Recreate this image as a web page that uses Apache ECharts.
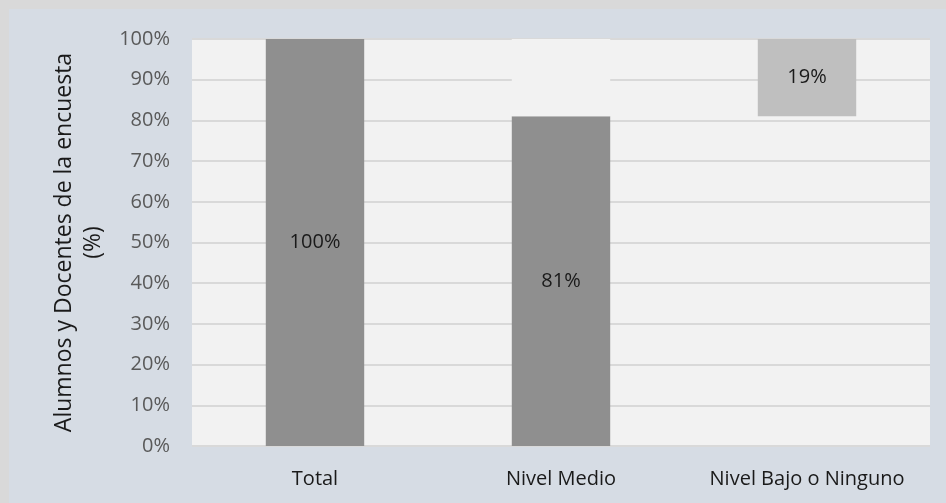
<!DOCTYPE html>
<html>
<head>
<meta charset="utf-8">
<script src="https://cdn.jsdelivr.net/npm/echarts@6/dist/echarts.min.js"></script>
<style>
  html, body { margin: 0; padding: 0; background: #d9d9d9; width: 946px; height: 503px; overflow: hidden; }
  #chart { position: absolute; left: 9px; top: 9px; width: 937px; height: 494px; }
</style>
</head>
<body>
<div id="chart"></div>
<script>
const categories = ['Total', 'Nivel Medio', 'Nivel Bajo o Ninguno'];
const values = [100, 81, 19];
const yTicks = [0, 10, 20, 30, 40, 50, 60, 70, 80, 90, 100];
const yAxisTitle = 'Alumnos y Docentes de la encuesta\n(%)';

// waterfall construction
const total = values[0];
const baseData = [0, 0, total - values[2]];
const remainderData = [null, total - values[1], null];

const FONT = 'Open Sans';
const chart = echarts.init(document.getElementById('chart'), null, { renderer: 'canvas' });
chart.setOption({
  backgroundColor: '#d6dce4',
  animation: false,
  grid: { left: 183, top: 30, width: 738, height: 407 },
  xAxis: {
    type: 'category',
    data: categories,
    axisLine: { show: false },
    axisTick: { show: false },
    axisLabel: { color: '#1a1a1a', fontFamily: FONT, fontSize: 20, margin: 23, interval: 0, hideOverlap: false }
  },
  yAxis: {
    type: 'value',
    min: yTicks[0],
    max: yTicks[yTicks.length - 1],
    interval: 10,
    axisLine: { show: false },
    axisTick: { show: false },
    axisLabel: { color: '#595959', fontFamily: FONT, fontSize: 20, margin: 22, formatter: v => v + '%' },
    splitLine: { show: true, lineStyle: { color: '#d9d9d9', width: 2 } },
    splitArea: { show: true, areaStyle: { color: ['#f2f2f2'] } },
    name: yAxisTitle,
    nameLocation: 'middle',
    nameGap: 84,
    nameTextStyle: { color: '#1a1a1a', fontFamily: FONT, fontSize: 23, lineHeight: 29 }
  },
  series: [
    {
      type: 'bar', stack: 'w', data: baseData, barWidth: '40%',
      itemStyle: { color: 'transparent' }, silent: true
    },
    {
      type: 'bar', stack: 'w', barWidth: '40%',
      data: values.map((v, i) => ({ value: v, itemStyle: { color: i === 2 ? '#bfbfbf' : '#8f8f8f' } })),
      label: { show: true, position: 'inside', color: '#1a1a1a', fontFamily: FONT, fontSize: 20, formatter: p => p.value + '%' }
    },
    {
      type: 'bar', stack: 'w', data: remainderData, barWidth: '40%',
      itemStyle: { color: '#f2f2f2' }, silent: true
    }
  ]
});
</script>
</body>
</html>
